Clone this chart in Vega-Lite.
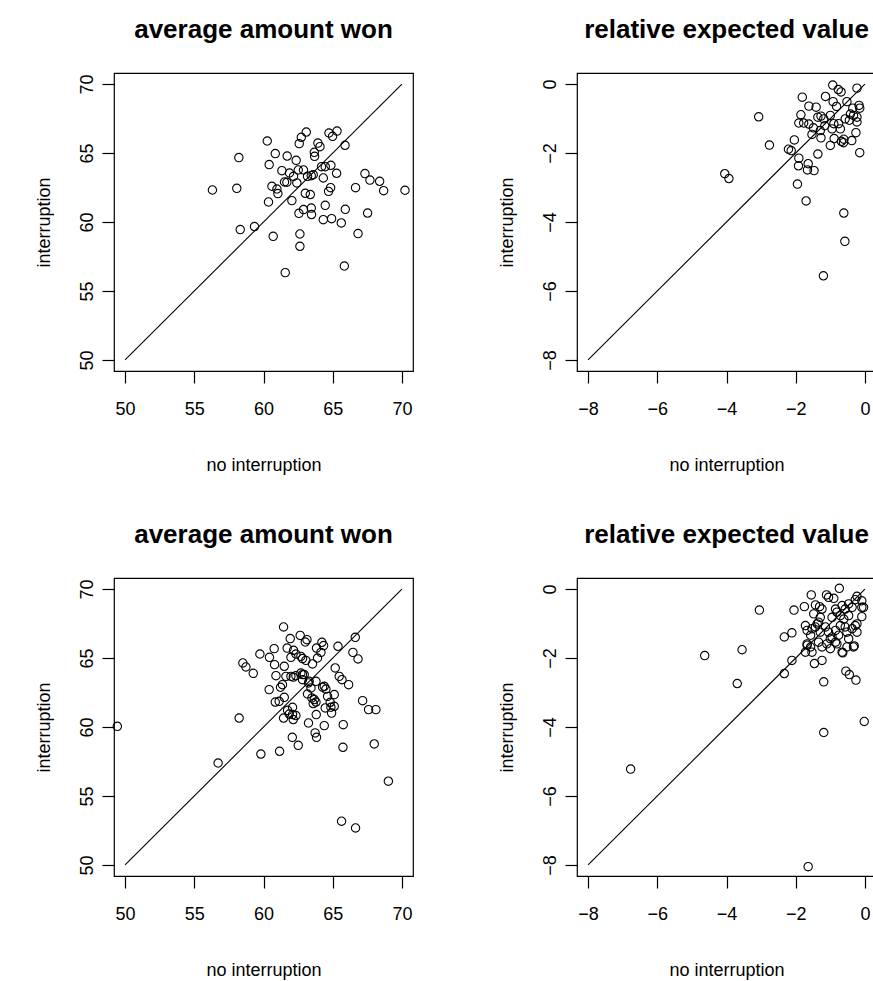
{
  "$schema": "https://vega.github.io/schema/vega-lite/v6.json",
  "background": "white",
  "padding": {"left": 34, "top": 16, "right": 0, "bottom": 0},
  "config": {
    "font": "Liberation Sans",
    "view": {"stroke": "black", "strokeWidth": 1.2},
    "axis": {
      "grid": false, "domain": false, "tickColor": "black", "tickSize": 12, "tickWidth": 1.2,
      "labelFont": "Liberation Sans", "labelFontSize": 18, "labelColor": "black",
      "titleFont": "Liberation Sans", "titleFontSize": 18, "titleColor": "black", "titleFontWeight": "normal"
    },
    "axisX": {"labelPadding": 17, "titleX": 149.5, "titleY": 94, "titleBaseline": "middle"},
    "axisY": {"labelAngle": -90, "labelAlign": "center", "labelBaseline": "bottom", "labelPadding": 6, "titleX": -70, "titleY": 149, "titleAngle": -90, "titleBaseline": "middle"},
    "title": {"font": "Liberation Sans", "fontSize": 26, "fontWeight": "bold", "color": "black", "anchor": "middle", "frame": "group", "baseline": "alphabetic", "offset": 30}
  },
  "columns": 2,
  "bounds": "flush",
  "spacing": {"row": 207, "column": 164},
  "datasets": {
    "tl": [
      {"x":56.31,"y":62.32},{"x":58.07,"y":62.44},{"x":58.22,"y":64.67},{"x":58.32,"y":59.45},{"x":59.35,"y":59.67},{"x":60.27,"y":65.87},{"x":60.41,"y":64.16},{"x":60.85,"y":64.96},{"x":60.36,"y":61.45},{"x":60.70,"y":58.96},{"x":60.61,"y":62.59},{"x":60.97,"y":62.39},{"x":61.04,"y":62.06},{"x":61.33,"y":63.72},{"x":61.52,"y":62.90},{"x":61.69,"y":62.88},{"x":61.71,"y":64.78},{"x":61.88,"y":63.55},{"x":62.05,"y":61.55},{"x":62.17,"y":63.31},{"x":62.36,"y":64.47},{"x":62.41,"y":62.83},{"x":61.57,"y":56.33},{"x":62.58,"y":65.68},{"x":62.73,"y":66.14},{"x":63.09,"y":66.52},{"x":62.51,"y":63.77},{"x":62.89,"y":63.77},{"x":62.56,"y":60.63},{"x":62.89,"y":60.90},{"x":62.63,"y":59.13},{"x":62.63,"y":58.24},{"x":63.02,"y":62.08},{"x":63.38,"y":61.99},{"x":63.18,"y":63.31},{"x":63.45,"y":63.36},{"x":63.59,"y":63.43},{"x":63.45,"y":61.01},{"x":63.47,"y":60.54},{"x":63.67,"y":65.05},{"x":63.69,"y":64.76},{"x":63.93,"y":65.72},{"x":64.08,"y":65.46},{"x":64.19,"y":64.01},{"x":64.32,"y":63.19},{"x":64.46,"y":64.01},{"x":64.87,"y":64.11},{"x":64.70,"y":62.22},{"x":64.85,"y":62.49},{"x":64.46,"y":61.21},{"x":64.32,"y":60.17},{"x":64.92,"y":60.24},{"x":64.73,"y":66.45},{"x":64.99,"y":66.21},{"x":65.31,"y":66.59},{"x":65.28,"y":63.53},{"x":65.89,"y":65.56},{"x":65.62,"y":59.93},{"x":65.91,"y":60.92},{"x":65.84,"y":56.81},{"x":66.65,"y":62.49},{"x":66.83,"y":59.16},{"x":67.33,"y":63.51},{"x":67.52,"y":60.65},{"x":67.69,"y":63.04},{"x":68.39,"y":62.95},{"x":68.68,"y":62.27},{"x":70.22,"y":62.30}
    ],
    "tr": [
      {"x":-4.05,"y":-2.60},{"x":-3.93,"y":-2.74},{"x":-3.07,"y":-0.95},{"x":-2.76,"y":-1.77},{"x":-2.21,"y":-1.89},{"x":-2.13,"y":-1.93},{"x":-2.04,"y":-1.62},{"x":-1.91,"y":-2.15},{"x":-1.92,"y":-2.37},{"x":-1.64,"y":-2.31},{"x":-1.66,"y":-2.49},{"x":-1.47,"y":-2.51},{"x":-1.95,"y":-2.90},{"x":-1.70,"y":-3.39},{"x":-0.61,"y":-3.74},{"x":-0.58,"y":-4.56},{"x":-1.20,"y":-5.56},{"x":-1.36,"y":-2.03},{"x":-0.15,"y":-1.99},
      {"x":-1.81,"y":-0.38},{"x":-1.85,"y":-0.89},{"x":-1.91,"y":-1.13},{"x":-1.77,"y":-1.13},{"x":-1.62,"y":-0.64},{"x":-1.41,"y":-0.67},{"x":-1.62,"y":-1.16},{"x":-1.49,"y":-1.27},{"x":-1.53,"y":-1.46},{"x":-1.27,"y":-0.93},{"x":-1.27,"y":-1.56},{"x":-1.14,"y":-0.36},{"x":-1.00,"y":-1.78},{"x":-0.93,"y":-0.03},{"x":-0.77,"y":-0.16},{"x":-0.69,"y":-0.23},{"x":-0.23,"y":-0.12},{"x":-0.17,"y":-0.62},{"x":-0.23,"y":-1.10},{"x":-0.26,"y":-1.41},{"x":-0.38,"y":-1.64},{"x":-0.68,"y":-1.66},{"x":-0.62,"y":-1.70},{"x":-0.89,"y":-1.58},{"x":-1.16,"y":-1.21},
      {"x":-0.92,"y":-0.51},{"x":-0.82,"y":-0.65},{"x":-0.52,"y":-0.51},{"x":-0.35,"y":-0.70},{"x":-1.36,"y":-0.96},{"x":-1.19,"y":-1.01},{"x":-1.00,"y":-0.91},{"x":-0.90,"y":-1.15},{"x":-0.76,"y":-1.15},{"x":-0.57,"y":-1.01},{"x":-0.42,"y":-0.87},{"x":-0.33,"y":-0.91},{"x":-0.23,"y":-0.96},{"x":-0.71,"y":-1.30},{"x":-0.95,"y":-1.30},{"x":-1.29,"y":-1.35},{"x":-0.61,"y":-1.60},{"x":-0.45,"y":-1.05},{"x":-0.15,"y":-0.70}
    ],
    "bl": [
      {"x":49.44,"y":60.05},{"x":56.72,"y":57.39},{"x":58.24,"y":60.65},{"x":58.51,"y":64.64},{"x":58.73,"y":64.35},{"x":59.26,"y":63.89},{"x":59.74,"y":65.29},{"x":59.81,"y":58.04},{"x":60.41,"y":62.71},{"x":60.43,"y":65.05},{"x":60.77,"y":65.68},{"x":60.80,"y":64.52},{"x":60.85,"y":61.81},{"x":60.90,"y":63.72},{"x":61.16,"y":58.24},{"x":61.23,"y":62.88},{"x":61.37,"y":63.07},{"x":61.45,"y":67.25},{"x":61.45,"y":60.65},{"x":61.50,"y":62.15},{"x":61.50,"y":64.40},{"x":61.62,"y":63.67},{"x":61.71,"y":65.72},{"x":61.74,"y":61.21},{"x":61.86,"y":60.94},{"x":61.93,"y":66.41},{"x":61.98,"y":65.05},{"x":61.98,"y":63.67},{"x":62.08,"y":59.25},{"x":62.10,"y":61.43},{"x":62.15,"y":60.54},{"x":62.17,"y":65.56},{"x":62.15,"y":63.62},{"x":62.34,"y":65.29},{"x":62.34,"y":63.72},{"x":62.34,"y":60.83},{"x":62.51,"y":58.67},{"x":62.65,"y":66.64},{"x":62.70,"y":65.12},{"x":62.82,"y":64.96},{"x":62.82,"y":63.80},{"x":62.82,"y":63.43},{"x":63.02,"y":66.16},{"x":63.06,"y":64.83},{"x":63.14,"y":66.33},{"x":63.18,"y":62.39},{"x":63.25,"y":63.19},{"x":63.25,"y":60.29},{"x":63.30,"y":63.31},{"x":63.43,"y":62.83},{"x":63.50,"y":62.10},{"x":63.54,"y":64.57},{"x":63.67,"y":61.99},{"x":63.79,"y":61.81},{"x":63.59,"y":61.70},{"x":63.73,"y":59.57},{"x":63.83,"y":59.25},{"x":63.81,"y":60.90},{"x":63.79,"y":63.31},{"x":63.83,"y":65.72},{"x":63.90,"y":65.00},{"x":64.15,"y":65.41},{"x":64.22,"y":66.14},{"x":64.34,"y":65.90},{"x":64.39,"y":60.10},{"x":64.39,"y":62.95},{"x":64.27,"y":62.88},{"x":64.51,"y":62.75},{"x":64.63,"y":62.22},{"x":64.46,"y":61.38},{"x":64.82,"y":61.79},{"x":64.87,"y":61.43},{"x":64.92,"y":61.01},{"x":65.11,"y":62.35},{"x":65.11,"y":61.50},{"x":65.18,"y":64.28},{"x":65.38,"y":65.85},{"x":65.47,"y":63.67},{"x":65.67,"y":63.43},{"x":65.76,"y":60.17},{"x":65.74,"y":58.53},{"x":65.64,"y":53.17},{"x":66.15,"y":63.07},{"x":66.46,"y":65.41},{"x":66.63,"y":66.50},{"x":66.83,"y":64.93},{"x":66.65,"y":52.68},{"x":67.16,"y":61.91},{"x":67.59,"y":61.26},{"x":68.12,"y":61.26},{"x":68.00,"y":58.77},{"x":69.02,"y":56.07},{"x":62.94,"y":63.80},{"x":62.70,"y":63.91},{"x":61.13,"y":61.86},{"x":62.10,"y":60.90}
    ],
    "br": [
      {"x":-6.77,"y":-5.22},{"x":-4.63,"y":-1.93},{"x":-3.55,"y":-1.76},{"x":-3.69,"y":-2.74},{"x":-3.05,"y":-0.61},{"x":-2.33,"y":-1.39},{"x":-2.11,"y":-1.27},{"x":-2.11,"y":-2.07},{"x":-2.33,"y":-2.45},{"x":-2.05,"y":-0.61},{"x":-1.75,"y":-0.51},{"x":-1.72,"y":-1.83},{"x":-1.67,"y":-1.63},{"x":-1.46,"y":-2.16},{"x":-1.24,"y":-2.07},{"x":-1.19,"y":-2.69},{"x":-1.19,"y":-4.16},{"x":-1.64,"y":-8.05},{"x":-0.55,"y":-2.38},{"x":-0.45,"y":-2.48},{"x":-0.26,"y":-2.64},{"x":-0.02,"y":-3.84},{"x":-0.31,"y":-1.65},{"x":-0.64,"y":-1.85},
      {"x":-1.55,"y":-0.17},{"x":-1.11,"y":-0.17},{"x":-1.05,"y":-0.24},{"x":-0.90,"y":-0.27},{"x":-0.74,"y":0.02},{"x":-0.28,"y":-0.31},{"x":-0.23,"y":-0.21},{"x":-0.09,"y":-0.34},{"x":-0.09,"y":-0.53},{"x":-1.43,"y":-0.46},{"x":-1.31,"y":-0.51},{"x":-1.24,"y":-0.58},{"x":-1.48,"y":-0.72},{"x":-0.85,"y":-0.58},{"x":-0.66,"y":-0.48},{"x":-0.57,"y":-0.58},{"x":-0.47,"y":-0.43},{"x":-0.37,"y":-0.53},{"x":-0.95,"y":-0.82},{"x":-0.71,"y":-0.77},{"x":-0.61,"y":-0.87},{"x":-0.47,"y":-0.77},{"x":-0.09,"y":-0.80},{"x":-1.72,"y":-1.06},{"x":-1.67,"y":-1.20},{"x":-1.57,"y":-1.34},{"x":-1.43,"y":-1.10},{"x":-1.34,"y":-0.96},{"x":-1.29,"y":-1.25},{"x":-1.14,"y":-1.10},{"x":-1.05,"y":-1.25},{"x":-0.95,"y":-1.39},{"x":-0.85,"y":-1.20},{"x":-0.76,"y":-1.34},{"x":-0.71,"y":-1.06},{"x":-0.57,"y":-1.10},{"x":-0.52,"y":-1.25},{"x":-0.37,"y":-1.15},{"x":-0.28,"y":-1.06},{"x":-0.23,"y":-1.25},{"x":-1.67,"y":-1.59},{"x":-1.57,"y":-1.68},{"x":-1.53,"y":-1.83},{"x":-1.34,"y":-1.54},{"x":-1.24,"y":-1.68},{"x":-1.10,"y":-1.59},{"x":-1.00,"y":-1.73},{"x":-0.81,"y":-1.59},{"x":-0.66,"y":-1.83},{"x":-0.52,"y":-1.68},{"x":-0.33,"y":-1.68},{"x":-1.29,"y":-0.82},{"x":-0.81,"y":-0.67},{"x":-0.04,"y":-0.53},{"x":-0.23,"y":-1.01},{"x":-1.00,"y":-1.44},{"x":-0.85,"y":-1.54},{"x":-0.47,"y":-1.44},{"x":-1.53,"y":-1.15},{"x":-1.38,"y":-1.01}
    ],
    "diagA": [{"x":50,"y":50},{"x":70,"y":70}],
    "diagB": [{"x":-8,"y":-8},{"x":0,"y":0}]
  },
  "concat": [
    {
      "width": 299, "height": 298, "title": "average amount won",
      "layer": [
        {"data": {"name": "diagA"}, "mark": {"type": "line", "color": "black", "strokeWidth": 1.1},
         "encoding": {"x": {"field": "x", "type": "quantitative", "scale": {"domain": [49.2, 70.8], "nice": false, "zero": false}, "axis": {"values": [50,55,60,65,70], "title": "no interruption"}},
                      "y": {"field": "y", "type": "quantitative", "scale": {"domain": [49.2, 70.8], "nice": false, "zero": false}, "axis": {"values": [50,55,60,65,70], "title": "interruption"}}}},
        {"data": {"name": "tl"}, "mark": {"type": "point", "shape": "circle", "filled": false, "color": "black", "size": 70, "strokeWidth": 1.1, "opacity": 1},
         "encoding": {"x": {"field": "x", "type": "quantitative"}, "y": {"field": "y", "type": "quantitative"}}}
      ]
    },
    {
      "width": 299, "height": 298, "title": "relative expected value",
      "layer": [
        {"data": {"name": "diagB"}, "mark": {"type": "line", "color": "black", "strokeWidth": 1.1},
         "encoding": {"x": {"field": "x", "type": "quantitative", "scale": {"domain": [-8.32, 0.32], "nice": false, "zero": false}, "axis": {"values": [-8,-6,-4,-2,0], "title": "no interruption"}},
                      "y": {"field": "y", "type": "quantitative", "scale": {"domain": [-8.32, 0.32], "nice": false, "zero": false}, "axis": {"values": [-8,-6,-4,-2,0], "title": "interruption"}}}},
        {"data": {"name": "tr"}, "mark": {"type": "point", "shape": "circle", "filled": false, "color": "black", "size": 70, "strokeWidth": 1.1, "opacity": 1},
         "encoding": {"x": {"field": "x", "type": "quantitative"}, "y": {"field": "y", "type": "quantitative"}}}
      ]
    },
    {
      "width": 299, "height": 298, "title": "average amount won",
      "layer": [
        {"data": {"name": "diagA"}, "mark": {"type": "line", "color": "black", "strokeWidth": 1.1},
         "encoding": {"x": {"field": "x", "type": "quantitative", "scale": {"domain": [49.2, 70.8], "nice": false, "zero": false}, "axis": {"values": [50,55,60,65,70], "title": "no interruption"}},
                      "y": {"field": "y", "type": "quantitative", "scale": {"domain": [49.2, 70.8], "nice": false, "zero": false}, "axis": {"values": [50,55,60,65,70], "title": "interruption"}}}},
        {"data": {"name": "bl"}, "mark": {"type": "point", "shape": "circle", "filled": false, "color": "black", "size": 70, "strokeWidth": 1.1, "opacity": 1},
         "encoding": {"x": {"field": "x", "type": "quantitative"}, "y": {"field": "y", "type": "quantitative"}}}
      ]
    },
    {
      "width": 299, "height": 298, "title": "relative expected value",
      "layer": [
        {"data": {"name": "diagB"}, "mark": {"type": "line", "color": "black", "strokeWidth": 1.1},
         "encoding": {"x": {"field": "x", "type": "quantitative", "scale": {"domain": [-8.32, 0.32], "nice": false, "zero": false}, "axis": {"values": [-8,-6,-4,-2,0], "title": "no interruption"}},
                      "y": {"field": "y", "type": "quantitative", "scale": {"domain": [-8.32, 0.32], "nice": false, "zero": false}, "axis": {"values": [-8,-6,-4,-2,0], "title": "interruption"}}}},
        {"data": {"name": "br"}, "mark": {"type": "point", "shape": "circle", "filled": false, "color": "black", "size": 70, "strokeWidth": 1.1, "opacity": 1},
         "encoding": {"x": {"field": "x", "type": "quantitative"}, "y": {"field": "y", "type": "quantitative"}}}
      ]
    }
  ]
}
